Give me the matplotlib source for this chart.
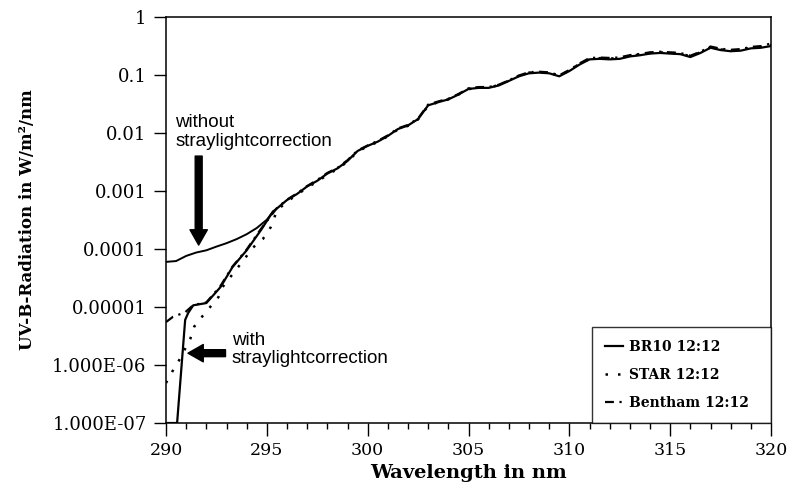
import matplotlib.pyplot as plt
import numpy as np
from matplotlib.ticker import FixedLocator, FixedFormatter, MultipleLocator

# lower part (below ~295 nm)
wl_nocorr = [290.0, 290.5, 291.0, 291.5, 292.0, 292.5, 293.0, 293.5, 294.0, 294.5, 295.0, 295.3]
uv_nocorr = [6.0e-5, 6.2e-5, 7.6e-5, 8.7e-5, 9.5e-5, 1.1e-4, 1.26e-4, 1.48e-4, 1.8e-4, 2.3e-4, 3.2e-4, 4.4e-4]

wl_br10_lo = [290.0, 290.55, 290.95, 291.1, 291.35, 292.0, 292.7, 293.3, 294.0, 294.7, 295.3]
uv_br10_lo = [1e-7, 1e-7, 6.0e-6, 7.9e-6, 1.07e-5, 1.17e-5, 2.2e-5, 4.9e-5, 9.5e-5, 2.1e-4, 4.4e-4]

wl_star_lo = [290.0, 290.3, 290.6, 291.2, 291.4, 291.8, 292.6, 292.8, 293.9, 294.3, 294.8, 295.2]
uv_star_lo = [4.9e-7, 7.6e-7, 1.12e-6, 2.8e-6, 4.6e-6, 6.9e-6, 1.48e-5, 2.2e-5, 6.8e-5, 1.05e-4, 1.48e-4, 2.4e-4]

wl_bent_lo = [290.0, 290.35, 290.95, 291.35, 292.0, 292.7, 293.3, 294.0, 294.7]
uv_bent_lo = [5.5e-6, 6.8e-6, 8.1e-6, 1.08e-5, 1.2e-5, 2.3e-5, 5.0e-5, 9.8e-5, 2.2e-4]

# upper part, all instruments nearly on top of each other
wl_hi = [295.5, 296.0, 296.5, 297.0, 297.5, 298.0, 298.5, 299.0, 299.5, 300.0,
         300.5, 301.0, 301.5, 302.0, 302.5, 303.0, 303.5, 304.0, 304.5, 305.0,
         305.5, 306.0, 306.5, 307.0, 307.5, 308.0, 308.5, 309.0, 309.5, 310.0,
         310.5, 311.0, 311.5, 312.0, 312.5, 313.0, 313.5, 314.0, 314.5, 315.0,
         315.5, 316.0, 316.5, 317.0, 317.5, 318.0, 318.5, 319.0, 319.5, 320.0]
uv_br10_hi = [5.0e-4, 7.0e-4, 8.9e-4, 1.2e-3, 1.5e-3, 2.0e-3, 2.45e-3, 3.3e-3, 4.9e-3, 6.0e-3,
              7.1e-3, 8.9e-3, 1.17e-2, 1.35e-2, 1.74e-2, 3.0e-2, 3.4e-2, 3.8e-2, 4.6e-2, 5.75e-2,
              6.0e-2, 6.0e-2, 6.6e-2, 7.9e-2, 9.5e-2, 0.107, 0.110, 0.107, 0.095, 0.117,
              0.151, 0.186, 0.190, 0.186, 0.190, 0.209, 0.219, 0.234, 0.240, 0.234,
              0.229, 0.204, 0.240, 0.295, 0.269, 0.257, 0.263, 0.288, 0.295, 0.316]
uv_star_hi = [4.6e-4, 6.6e-4, 8.6e-4, 1.15e-3, 1.45e-3, 1.9e-3, 2.4e-3, 3.2e-3, 4.8e-3, 5.9e-3,
              7.0e-3, 8.8e-3, 1.15e-2, 1.33e-2, 1.72e-2, 2.95e-2, 3.4e-2, 3.8e-2, 4.6e-2, 5.7e-2,
              6.1e-2, 6.1e-2, 6.7e-2, 8.0e-2, 9.7e-2, 0.110, 0.112, 0.109, 0.097, 0.120,
              0.155, 0.190, 0.195, 0.192, 0.196, 0.215, 0.225, 0.240, 0.245, 0.240,
              0.235, 0.210, 0.246, 0.300, 0.276, 0.265, 0.272, 0.296, 0.305, 0.330]
uv_bent_hi = [5.1e-4, 7.1e-4, 9.1e-4, 1.22e-3, 1.55e-3, 2.05e-3, 2.5e-3, 3.4e-3, 5.0e-3, 6.1e-3,
              7.3e-3, 9.1e-3, 1.2e-2, 1.38e-2, 1.78e-2, 3.1e-2, 3.5e-2, 3.9e-2, 4.7e-2, 5.9e-2,
              6.2e-2, 6.2e-2, 6.8e-2, 8.1e-2, 9.8e-2, 0.112, 0.114, 0.111, 0.099, 0.122,
              0.158, 0.196, 0.200, 0.197, 0.201, 0.220, 0.231, 0.246, 0.252, 0.246,
              0.240, 0.215, 0.252, 0.310, 0.284, 0.272, 0.280, 0.305, 0.315, 0.350]

ytick_vals = [1, 0.1, 0.01, 0.001, 0.0001, 0.00001, 1e-6, 1e-7]
ytick_labels = ['1', '0.1', '0.01', '0.001', '0.0001', '0.00001', '1.000E-06', '1.000E-07']
legend_labels = ['BR10 12:12', 'STAR 12:12', 'Bentham 12:12']

serif = 'DejaVu Serif'
sans = 'Liberation Sans'

fig = plt.figure(figsize=(7.92, 4.90), dpi=100)
ax = fig.add_axes([0.2096, 0.1367, 0.7639, 0.8286])

ax.plot(wl_nocorr, uv_nocorr, color='black', lw=1.4)
ax.plot(wl_br10_lo + wl_hi, uv_br10_lo + uv_br10_hi, color='black', lw=1.6, label=legend_labels[0])
ax.plot(wl_star_lo + wl_hi, uv_star_lo + uv_star_hi, color='black', lw=1.8,
        ls=(0, (1, 4)), label=legend_labels[1])
ax.plot(wl_bent_lo + wl_hi, uv_bent_lo + uv_bent_hi, color='black', lw=1.6,
        ls=(0, (4, 2.5, 1, 2.5)), label=legend_labels[2])

ax.set_yscale('log')
ax.set_xlim(290, 320)
ax.set_ylim(1e-7, 1)
ax.yaxis.set_major_locator(FixedLocator(ytick_vals))
ax.yaxis.set_major_formatter(FixedFormatter(ytick_labels))
ax.yaxis.set_minor_locator(FixedLocator([]))
ax.xaxis.set_major_locator(MultipleLocator(5))
ax.xaxis.set_minor_locator(MultipleLocator(1))
ax.tick_params(axis='both', which='major', direction='out', length=9, width=1,
               pad=5, labelsize=12.5, colors='black')
ax.tick_params(axis='y', labelsize=13)
ax.tick_params(axis='x', which='minor', direction='out', length=4, width=1)
for lab in ax.get_xticklabels() + ax.get_yticklabels():
    lab.set_fontfamily(serif)
for sp in ax.spines.values():
    sp.set_linewidth(1.1)

ax.set_xlabel('Wavelength in nm', fontfamily=serif, fontweight='bold', fontsize=14, labelpad=3)
ax.set_ylabel('UV-B-Radiation in W/m²/nm', fontfamily=serif, fontweight='bold', fontsize=12,
              labelpad=12)

# legend box spans from ~311 nm to the right spine, flush with the bottom
leg = ax.legend(loc='lower right', bbox_to_anchor=(0.704, 0.0, 0.296, 0.236), mode='expand',
                borderaxespad=0, fancybox=False, edgecolor='black',
                handlelength=1.3, handletextpad=0.4, labelspacing=1.0, borderpad=0.95,
                prop={'family': serif, 'weight': 'bold', 'size': 10})
leg.get_frame().set_linewidth(1.0)

arrow = dict(arrowstyle='simple,head_length=1.1,head_width=1.25,tail_width=0.5',
             fc='black', ec='black', mutation_scale=10, shrinkA=0, shrinkB=0)

ax.text(290.45, 1.05e-2, 'without\nstraylightcorrection', fontfamily=sans, fontsize=13.5,
        ha='left', va='center', linespacing=1.15)
ax.annotate('', xy=(291.62, 1.17e-4), xytext=(291.62, 4.0e-3), arrowprops=arrow)
ax.text(293.27, 1.85e-6, 'with\nstraylightcorrection', fontfamily=sans, fontsize=13.5,
        ha='left', va='center', linespacing=1.15)
ax.annotate('', xy=(291.09, 1.6e-6), xytext=(292.95, 1.6e-6), arrowprops=arrow)

fig.savefig('out.png', dpi=100)
